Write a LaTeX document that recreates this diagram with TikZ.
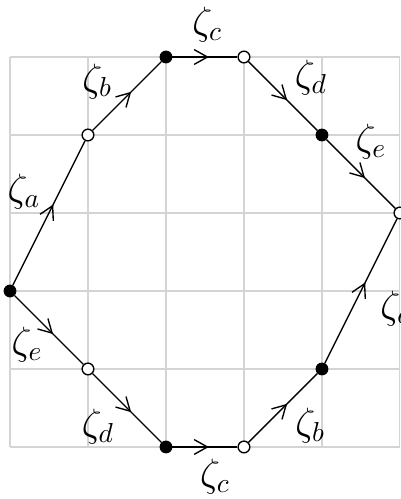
\documentclass[tikz,border=0pt]{standalone}
\usepackage{xcolor}
\definecolor{gridgrey}{RGB}{212,212,212}
\usepackage{tikz}
\usetikzlibrary{arrows.meta,decorations.markings}
\tikzset{
  gridline/.style={draw=gridgrey, line width=0.4pt},
  fullpt/.style={draw, circle, fill=black, inner sep=0pt, minimum size=0.15cm},
  openpt/.style={draw, circle, fill=white, inner sep=0pt, minimum size=0.15cm, line width=0.5pt},
  edge/.style={line width=0.5pt, postaction={decorate},
    decoration={markings, mark=at position 0.56 with {\arrow{Straight Barb[length=1.7mm,width=1.9mm]}}}},
  lbl/.style={font=\Large, inner sep=0pt}
}

\begin{document}
\begin{tikzpicture}
  \useasboundingbox (-0.128,-0.667) rectangle (5.013,5.731);
  \draw[gridline] (0,0) grid (5,5);
  % vertices
  \node[fullpt] (pa) at (0,2) {};
  \node[openpt] (pb) at (1,4) {};
  \node[fullpt] (pc) at (2,5) {};
  \node[openpt] (pd) at (3,5) {};
  \node[fullpt] (pe) at (4,4) {};
  \node[openpt] (pf) at (5,3) {};
  \node[fullpt] (pg) at (4,1) {};
  \node[openpt] (ph) at (3,0) {};
  \node[fullpt] (pi) at (2,0) {};
  \node[openpt] (pj) at (1,1) {};
  % upper path
  \draw[edge] (pa) -- (pb);
  \draw[edge] (pb) -- (pc);
  \draw[edge] (pc) -- (pd);
  \draw[edge] (pd) -- (pe);
  \draw[edge] (pe) -- (pf);
  % lower path
  \draw[edge] (pa) -- (pj);
  \draw[edge] (pj) -- (pi);
  \draw[edge] (pi) -- (ph);
  \draw[edge] (ph) -- (pg);
  \draw[edge] (pg) -- (pf);
  % labels
  \node[lbl] (la1) at (0.18,3.27) {$\zeta_a$};
  \node[lbl] (lb1) at (1.12,4.69) {$\zeta_b$};
  \node[lbl] (lc1) at (2.53,5.42) {$\zeta_c$};
  \node[lbl] (ld1) at (3.86,4.73) {$\zeta_d$};
  \node[lbl] (le1) at (4.63,3.91) {$\zeta_e$};
  \node[lbl] (le2) at (0.22,1.31) {$\zeta_e$};
  \node[lbl] (ld2) at (1.13,0.26) {$\zeta_d$};
  \node[lbl] (lc2) at (2.63,-0.38) {$\zeta_c$};
  \node[lbl] (lb2) at (3.85,0.27) {$\zeta_b$};
  \node[lbl] (la2) at (4.96,1.78) {$\zeta_a$};
\end{tikzpicture}
\end{document}
